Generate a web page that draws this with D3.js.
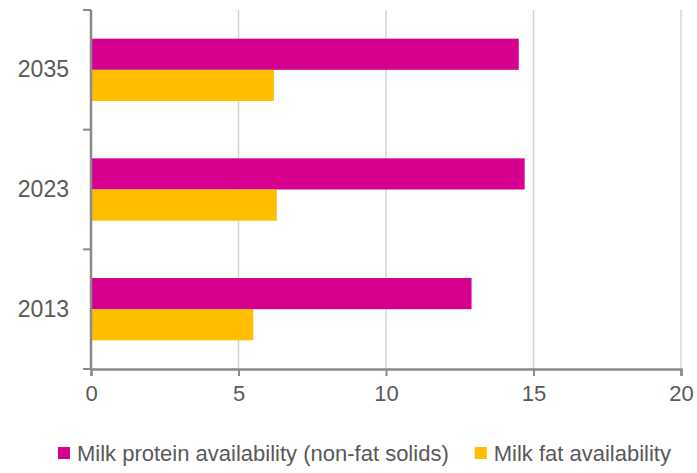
<!DOCTYPE html>
<html>
<head>
<meta charset="utf-8">
<script src="https://cdn.jsdelivr.net/npm/d3@7"></script>
<style>
  html, body { margin: 0; padding: 0; background: #fff; }
  svg { display: block; }
  text { font-family: "Liberation Sans", Arial, sans-serif; fill: #595959; }
</style>
</head>
<body>
<svg id="chart" width="697" height="473"></svg>
<script>
// Years shown on the vertical axis (top to bottom)
const years = ["2035", "2023", "2013"];
// Series names, in bar order within each year
const seriesNames = ["Milk protein availability (non-fat solids)", "Milk fat availability"];
// Values per year, same order as `years`
const proteinValues = [14.5, 14.7, 12.9];
const fatValues = [6.2, 6.3, 5.5];
// Horizontal axis ticks
const xTicks = [0, 5, 10, 15, 20];
const seriesColors = ["#d6008f", "#ffbf00"];

const rows = years.map((y, i) => ({ year: y, values: [proteinValues[i], fatValues[i]] }));

const svg = d3.select("#chart");
const margin = { top: 10, right: 16, bottom: 104, left: 91 };
const width = +svg.attr("width") - margin.left - margin.right;
const height = +svg.attr("height") - margin.top - margin.bottom;
const g = svg.append("g").attr("transform", `translate(${margin.left},${margin.top})`);

const x = d3.scaleLinear().domain([0, 20]).range([0, width]);
const y0 = d3.scaleBand().domain(years).range([0, height]).padding(0);
const y1 = d3.scaleBand().domain(d3.range(seriesNames.length))
  .range([0, y0.bandwidth()]).paddingInner(0).paddingOuter(0.92);

// Vertical gridlines
g.append("g").selectAll("line")
  .data(xTicks.filter(t => t > 0))
  .join("line")
  .attr("x1", d => x(d)).attr("x2", d => x(d))
  .attr("y1", 0).attr("y2", height)
  .attr("stroke", "#d4d4d4").attr("stroke-width", 1.5);

// Bars
const groups = g.append("g").selectAll("g")
  .data(rows).join("g")
  .attr("transform", d => `translate(0,${y0(d.year)})`);
groups.selectAll("rect")
  .data(d => d.values.map((v, i) => ({ v, i })))
  .join("rect")
  .attr("x", 0)
  .attr("y", d => y1(d.i))
  .attr("width", d => x(d.v))
  .attr("height", y1.bandwidth())
  .attr("fill", d => seriesColors[d.i]);

const axisColor = "#8a8a8a";

// X axis
const xAxis = g.append("g")
  .attr("transform", `translate(0,${height})`)
  .call(d3.axisBottom(x).tickValues(xTicks).tickSize(7).tickPadding(9));
xAxis.select(".domain").attr("stroke", axisColor).attr("stroke-width", 2.5);
xAxis.selectAll(".tick line").attr("stroke", axisColor).attr("stroke-width", 2);
xAxis.selectAll(".tick text").attr("font-size", 22).attr("fill", "#595959")
  .attr("font-family", '"Liberation Sans", Arial, sans-serif');

// Y axis: category labels centred in bands, tick marks on band edges
const yAxis = g.append("g")
  .call(d3.axisLeft(y0).tickSize(0).tickPadding(22));
yAxis.select(".domain").remove();
yAxis.selectAll(".tick text").attr("font-size", 23).attr("fill", "#595959")
  .attr("font-family", '"Liberation Sans", Arial, sans-serif');

const edges = years.map(d => y0(d)).concat([height]);
g.append("line")
  .attr("x1", 0).attr("x2", 0).attr("y1", 0).attr("y2", height)
  .attr("stroke", axisColor).attr("stroke-width", 2.5);
g.append("g").selectAll("line")
  .data(edges).join("line")
  .attr("x1", -8).attr("x2", 0)
  .attr("y1", d => d).attr("y2", d => d)
  .attr("stroke", axisColor).attr("stroke-width", 2);

// Legend
const legend = svg.append("g").attr("transform", "translate(58,447)");
let offset = 0;
seriesNames.forEach((name, i) => {
  const item = legend.append("g").attr("transform", `translate(${offset},0)`);
  item.append("rect").attr("width", 12).attr("height", 12).attr("fill", seriesColors[i]);
  const t = item.append("text").attr("x", 19).attr("y", 14).attr("font-size", 22).text(name);
  offset += 19 + t.node().getComputedTextLength() + 26;
});
</script>
</body>
</html>
